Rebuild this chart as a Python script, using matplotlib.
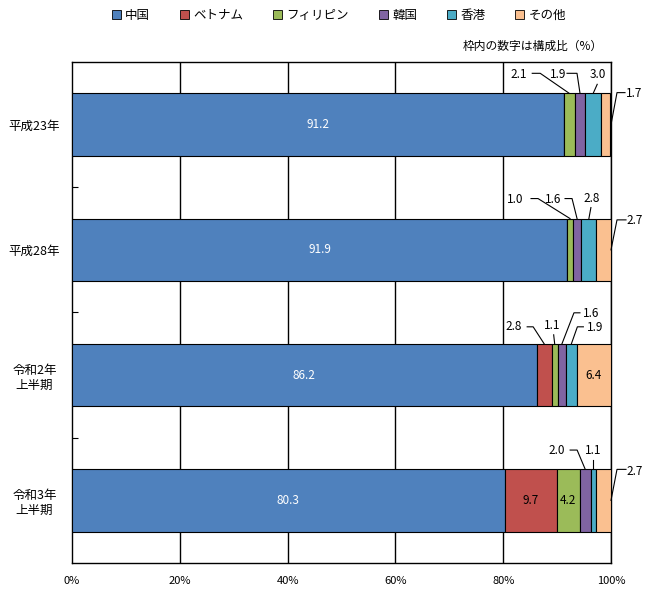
import matplotlib
matplotlib.use("Agg")
import matplotlib.pyplot as plt
from matplotlib.patches import Patch
from matplotlib.transforms import IdentityTransform
import numpy as np

plt.rcParams['font.family'] = ['Noto Sans CJK JP', 'DejaVu Sans']

# ---- data ----
categories = ['平成23年', '平成28年', '令和2年\n上半期', '令和3年\n上半期']
series_names = ['中国', 'ベトナム', 'フィリピン', '韓国', '香港', 'その他']
china = [91.2, 91.9, 86.2, 80.3]
vietnam = [0.0, 0.0, 2.8, 9.7]
philippines = [2.1, 1.0, 1.1, 4.2]
korea = [1.9, 1.6, 1.6, 2.0]
hongkong = [3.0, 2.8, 1.9, 1.1]
others = [1.7, 2.7, 6.4, 2.7]
x_ticks = [0, 20, 40, 60, 80, 100]
x_ticklabels = ['0%', '20%', '40%', '60%', '80%', '100%']
note = '枠内の数字は構成比（%）'

values = [china, vietnam, philippines, korea, hongkong, others]
colors = ['#4F81BD', '#C0504D', '#9BBB59', '#8064A2', '#4BACC6', '#FAC090']

# ---- label layout (pixel offsets from anchor; y down) ----
# (row, series) -> (text offset, line start, elbow or None)
outside = {
    (0, 2): ((-50, -19), (-37, -20), (-29, -20)),
    (0, 3): ((-22, -19), (-13, -20), (-3, -20)),
    (0, 4): ((5, -19), (4, -9), None),
    (0, 5): ((23, -31), (14, -32), (6, -32)),
    (1, 2): ((-55, -19), (-39, -20), (-32, -20)),
    (1, 3): ((-24, -19), (-12, -20), (-5, -20)),
    (1, 4): ((3, -20), (2, -11), None),
    (1, 5): ((24, -29), (15, -30), (6, -30)),
    (2, 1): ((-30, -17), (-17, -17), (-11, -17)),
    (2, 2): ((-2, -18), (-1, -9), None),
    (2, 3): ((29, -30), (18, -31), (12, -31)),
    (2, 4): ((24, -16), (12, -17), (6, -17)),
    (3, 3): ((-28, -19), (-15, -19), (-8, -19)),
    (3, 4): ((0, -19), (0, -9), None),
    (3, 5): ((24, -29), (15, -31), (6, -31)),
}
inside = {(0, 0), (1, 0), (2, 0), (3, 0), (3, 1), (3, 2), (2, 5)}

W, H = 650, 590
fig = plt.figure(figsize=(W / 100, H / 100), dpi=100)
ax = fig.add_axes([72 / W, (H - 563) / H, 539 / W, 501 / H])

n = len(categories)
ypos = np.arange(n)
bar_h = 0.5
left = np.zeros(n)
for vals, col, name in zip(values, colors, series_names):
    ax.barh(ypos, vals, left=left, height=bar_h, color=col, edgecolor='black',
            linewidth=0.8, zorder=3, label=name)
    left = left + np.array(vals)

ax.set_xlim(0, 100)
ax.set_ylim(n - 0.5, -0.5)
ax.set_xticks(x_ticks)
ax.set_xticklabels(x_ticklabels, fontsize=8)
ax.tick_params(axis='x', length=0, pad=9)
ax.set_yticks(ypos)
ax.set_yticklabels(categories, fontsize=9, ha='center', linespacing=1.25)
ax.tick_params(axis='y', which='major', length=0, pad=27)
ax.set_yticks(np.arange(n - 1) + 0.5, minor=True)
ax.tick_params(axis='y', which='minor', direction='in', length=4, width=0.8)
for xv in x_ticks[1:]:
    ax.axvline(xv, color='black', linewidth=1.0, zorder=1)
for s in ax.spines.values():
    s.set_linewidth(1.0)
    s.set_color('black')

# ---- value labels ----
fs = 8.5
cum = np.zeros(n)
starts = []
for vals in values:
    starts.append(cum.copy())
    cum = cum + np.array(vals)

for r in range(n):
    for s in range(len(values)):
        v = values[s][r]
        if v <= 0:
            continue
        center = starts[s][r] + v / 2
        if (r, s) in inside:
            ax.text(center, ypos[r], f'{v:.1f}', ha='center', va='center',
                    fontsize=fs, color='white' if s == 0 else 'black', zorder=5)
        elif (r, s) in outside:
            toff, lstart, elbow = outside[(r, s)]
            if s == len(values) - 1:
                anchor = ax.transData.transform((100, ypos[r]))
            else:
                anchor = ax.transData.transform((center, ypos[r] - bar_h / 2))
            ax_, ay_ = anchor
            pts = [lstart] + ([elbow] if elbow else [])
            xs = [ax_ + p[0] for p in pts] + [ax_]
            ys = [ay_ - p[1] for p in pts] + [ay_]
            fig.add_artist(plt.Line2D(xs, ys, transform=IdentityTransform(),
                                      color='black', linewidth=0.8))
            fig.text(ax_ + toff[0], ay_ - toff[1], f'{v:.1f}', transform=IdentityTransform(),
                     ha='center', va='center', fontsize=fs, color='black')

# ---- legend ----
handles = [Patch(facecolor=c, edgecolor='black', linewidth=0.6) for c in colors]
fig.legend(handles, series_names, loc='center', bbox_to_anchor=(339 / W, 1 - 15 / H),
           ncol=6, frameon=False, fontsize=9, handlelength=0.7, handleheight=0.7,
           handletextpad=0.35, columnspacing=2.4, borderaxespad=0)

fig.text(603 / W, 1 - 46 / H, note, ha='right', va='center', fontsize=8.5)

fig.savefig('out.png', dpi=100)
